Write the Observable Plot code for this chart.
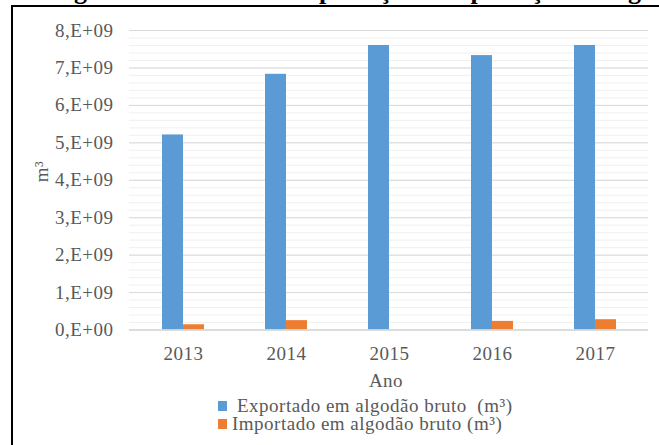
<!DOCTYPE html>
<html>
<head>
<meta charset="utf-8">
<script src="https://cdn.jsdelivr.net/npm/d3@7"></script>
<script src="https://cdn.jsdelivr.net/npm/@observablehq/plot@0.6"></script>
<style>
  html, body { margin: 0; padding: 0; background: #fff; }
  body { width: 659px; height: 445px; position: relative; overflow: hidden; font-family: "Liberation Serif", "Times New Roman", serif; }
  #frame { position: absolute; left: 11px; top: 5px; width: 720px; height: 520px; border-left: 2px solid #000; border-top: 2px solid #000; }
  #title { position: absolute; left: 0; top: 0; }
  #chart { position: absolute; left: 0; top: 0; }
  .lg { position: absolute; font-size: 19px; line-height: 17px; letter-spacing: 0.5px; color: #595959; white-space: pre; }
  .sw { position: absolute; width: 9px; height: 10px; }
</style>
</head>
<body>
<svg id="title" width="659" height="12"><text x="51" y="-1" style="font-family:'Liberation Serif';font-weight:bold;font-size:26px;fill:#000">Figura 3 – Volume de exportação e importação de algodão bruto</text></svg>
<div id="chart"></div>
<div id="frame"></div>
<div id="legend"></div>
<script>
// ---- data ----
const years = ["2013", "2014", "2015", "2016", "2017"];
const exported = [5.21e9, 6.83e9, 7.60e9, 7.33e9, 7.60e9];
const imported = [0.14e9, 0.25e9, 0, 0.23e9, 0.275e9];
const yTicks = [0, 1e9, 2e9, 3e9, 4e9, 5e9, 6e9, 7e9, 8e9];
const yTickLabels = ["0,E+00", "1,E+09", "2,E+09", "3,E+09", "4,E+09", "5,E+09", "6,E+09", "7,E+09", "8,E+09"];
const seriesNames = ["Exportado em algodão bruto  (m³)", "Importado em algodão bruto (m³)"];
const seriesColors = ["#5b9bd5", "#ed7d31"];
const xLabel = "Ano";
const yLabel = "m³";

const rows = years.map((y, i) => ({year: y, exp: exported[i], imp: imported[i]}));
const minorTicks = d3.range(0, 8e9 + 1, 2e8);

const W = 659, H = 445;
const mL = 129, mR = 11, mT = 30, mB = 115.5;
const pInner = 0.595, pOuter = 0.2975;
const step = (W - mL - mR) / (years.length - pInner + 2 * pOuter);
const half = step * (1 - pInner) / 2;
const fs = 19;
const txtStyle = {fontSize: fs, fill: "#595959", letterSpacing: "0.5px"};

const chart = Plot.plot({
  width: W,
  height: H,
  marginLeft: mL,
  marginRight: mR,
  marginTop: mT,
  marginBottom: mB,
  style: {fontFamily: "Liberation Serif, Times New Roman, serif", fontSize: fs + "px", color: "#595959", background: "transparent", letterSpacing: "0.5px"},
  x: {type: "band", domain: years, paddingInner: pInner, paddingOuter: pOuter, align: 0.5},
  y: {domain: [0, 8e9]},
  marks: [
    Plot.ruleY(minorTicks, {stroke: "#f0f0f0", strokeWidth: 1}),
    Plot.ruleY(yTicks, {stroke: "#d9d9d9", strokeWidth: 1}),
    Plot.barY(rows, {x: "year", y: "exp", fill: seriesColors[0], insetLeft: 0, insetRight: half}),
    Plot.barY(rows, {x: "year", y: "imp", fill: seriesColors[1], insetLeft: half, insetRight: 0}),
    Plot.ruleY([0], {stroke: "#d9d9d9", strokeWidth: 1.5}),
    Plot.axisY({ticks: yTicks, tickFormat: (d) => yTickLabels[yTicks.indexOf(d)], tickSize: 0, tickPadding: 16, fontSize: fs, label: null, fill: "#595959"}),
    Plot.axisX({tickSize: 0, tickPadding: 16, fontSize: fs, label: null, fill: "#595959"}),
    Plot.text([xLabel], {frameAnchor: "bottom", lineAnchor: "bottom", dy: 57, dx: -3, ...txtStyle}),
    Plot.text([yLabel], {frameAnchor: "left", rotate: -90, dx: -88, dy: 2, ...txtStyle})
  ]
});
document.getElementById("chart").appendChild(chart);

// legend
const legend = document.getElementById("legend");
const legendPos = [
  {sx: 218, sy: 401, tx: 237, ty: 396.8},
  {sx: 218, sy: 419, tx: 232, ty: 415.1}
];
seriesNames.forEach((name, i) => {
  const sw = document.createElement("span");
  sw.className = "sw";
  sw.style.left = legendPos[i].sx + "px";
  sw.style.top = legendPos[i].sy + "px";
  sw.style.background = seriesColors[i];
  legend.appendChild(sw);
  const t = document.createElement("span");
  t.className = "lg";
  t.style.left = legendPos[i].tx + "px";
  t.style.top = legendPos[i].ty + "px";
  t.textContent = name;
  legend.appendChild(t);
});
</script>
</body>
</html>
